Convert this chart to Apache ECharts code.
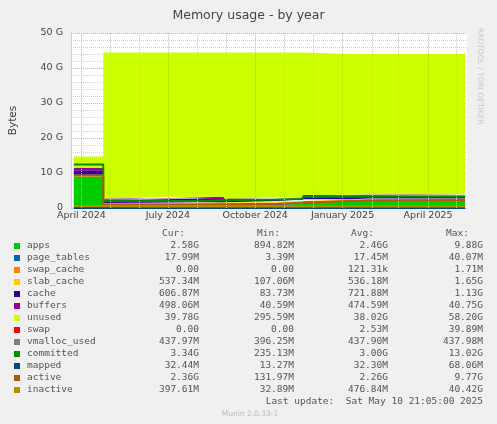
<!DOCTYPE html><html><head><meta charset="utf-8"><script src="https://cdn.jsdelivr.net/npm/echarts@6/dist/echarts.min.js"></script>
<style>body{margin:0;background:#f0f0f0}#c{width:497px;height:424px}</style></head><body><div id="c"></div><script>
const dates=['2024-03-24','2024-04-24','2024-06-09','2024-07-29','2024-08-29','2024-10-25','2024-11-20','2025-01-08','2025-01-30','2025-05-10'];
const apps=[9.0,0.4,0.5,0.6,0.8,1.2,2.0,2.0,2.1];
const page_tables=[0.02,0.02,0.02,0.02,0.02,0.02,0.02,0.02,0.02];
const swap_cache=[0,0,0,0,0,0,0,0,0];
const slab_cache=[0.5,1.0,1.0,1.0,0.8,0.8,0.5,0.5,0.6];
const cache=[1.3,1.0,1.1,1.2,0.8,0.7,0.9,1.0,0.8];
const buffers=[0.6,0.3,0.4,0.4,0.2,0.3,0.3,0.3,0.4];
const unused=[3.28,41.68,41.38,41.18,41.78,41.38,40.28,40.18,40.08];
const swap=[0,0,0,0,0,0,0,0,0];
const vmalloc_used=[0.44,0.44,0.44,0.44,0.44,0.44,0.44,0.44,0.44];
const committed=[12.4,2.0,2.0,2.2,2.4,2.6,3.2,3.3,3.3];
const mapped=[0.03,0.03,0.03,0.03,0.03,0.03,0.03,0.03,0.03];
const active=[9.3,1.0,1.0,1.1,1.2,1.5,2.0,2.2,2.3];
const inactive=[0.5,0.4,0.4,0.4,0.4,0.4,0.4,0.4,0.4];
const names=['apps','page_tables','swap_cache','slab_cache','cache','buffers','unused','swap','vmalloc_used','committed','mapped','active','inactive'];
const colors=['#00CC00','#0066B3','#FF8000','#FFCC00','#330099','#990099','#CCFF00','#FF0000','#808080','#008F00','#00487D','#B35A00','#B38F00'];
const curV=['2.58G','17.99M','0.00','537.34M','606.87M','498.06M','39.78G','0.00','437.97M','3.34G','32.44M','2.36G','397.61M'];
const minV=['894.82M','3.39M','0.00','107.06M','83.73M','40.59M','295.59M','0.00','396.25M','235.13M','13.27M','131.97M','32.89M'];
const avgV=['2.46G','17.45M','121.31k','536.18M','721.88M','474.59M','38.02G','2.53M','437.90M','3.00G','32.30M','2.26G','476.84M'];
const maxV=['9.88G','40.07M','1.71M','1.65G','1.13G','40.75G','58.20G','39.89M','437.98M','13.02G','68.06M','9.77G','40.42G'];
const monthLines=['2024-05-01','2024-06-01','2024-08-01','2024-09-01','2024-11-01','2024-12-01','2025-02-01','2025-03-01','2025-05-01'];
const quarterLines=['2024-04-01','2024-07-01','2024-10-01','2025-01-01','2025-04-01'];
const quarterLabels=['April 2024','July 2024','October 2024','January 2025','April 2025'];
const vals=[apps,page_tables,swap_cache,slab_cache,cache,buffers,unused,swap,vmalloc_used,committed,mapped,active,inactive];
function pts(a){const r=a.map((v,i)=>[dates[i],v]);r.push([dates[dates.length-1],a[a.length-1]]);return r;}
const series=vals.map((a,i)=>{const area=i<8;const empty=area&&a.every(v=>v===0);return {type:'line',name:names[i],step:'end',symbol:'none',stack:area?'s':undefined,
 data:pts(a),lineStyle:{color:colors[i],width:area?0:2,opacity:area?0:1},areaStyle:area?{color:colors[i],opacity:empty?0:1}:undefined,itemStyle:{color:colors[i]},z:area?2:3,silent:true};});
series[12].markLine={silent:true,symbol:'none',label:{show:false},data:monthLines.map(d=>({xAxis:d,lineStyle:{color:'#c8c8c8',type:'dotted',width:1}}))};
series[11].markLine={silent:true,symbol:'none',data:quarterLines.map((d,i)=>({xAxis:d,lineStyle:{color:'#f0a0a0',type:'dotted',width:1},
 label:{show:true,position:'start',distance:3,formatter:quarterLabels[i],fontFamily:'DejaVu Sans',fontSize:9.5,color:'#444'}}))};
const g=[];const fs=9.5,ff='DejaVu Sans Mono';
const hdr=[['Cur:',185],['Min:',280],['Avg:',374],['Max:',469]];
hdr.forEach(h=>g.push({type:'text',x:h[1],y:229,style:{text:h[0],font:fs+'px '+ff,fill:'#555',align:'right'}}));
names.forEach((n,i)=>{const y=241+i*12;
 g.push({type:'rect',shape:{x:14,y:y+2,width:6,height:6},style:{fill:colors[i]}});
 g.push({type:'text',x:27,y:y,style:{text:n,font:fs+'px '+ff,fill:'#555'}});
 [[curV,199],[minV,294],[avgV,388],[maxV,483]].forEach(c=>g.push({type:'text',x:c[1],y:y,style:{text:c[0][i],font:fs+'px '+ff,fill:'#555',align:'right'}}));
});
g.push({type:'text',x:483,y:397,style:{text:'Last update:  Sat May 10 21:05:00 2025',font:fs+'px '+ff,fill:'#555',align:'right'}});
g.push({type:'text',x:250,y:410,style:{text:'Munin 2.0.33-1',font:'7.5px DejaVu Sans',fill:'#bbb',align:'center'}});
g.push({type:'text',x:484,y:28,rotation:-Math.PI/2,style:{text:'RRDTOOL / TOBI OETIKER',font:'7.5px DejaVu Sans',fill:'#c8c8c8'}});
const ch=echarts.init(document.getElementById('c'));
ch.setOption({backgroundColor:'#f0f0f0',animation:false,
 title:{text:'Memory usage - by year',left:'center',top:4,textStyle:{fontFamily:'DejaVu Sans',fontSize:12.5,fontWeight:'normal',color:'#444'}},
 grid:{left:67,right:30,top:33,bottom:216,backgroundColor:'#fff',show:true,borderWidth:0},
 xAxis:{type:'time',min:'2024-03-21',max:'2025-05-12',splitLine:{show:false},axisTick:{show:false},
  axisLine:{lineStyle:{color:'#c8c8ee'}},axisLabel:{show:false}},
 yAxis:{type:'value',min:0,max:50,interval:10,name:'Bytes',nameLocation:'middle',nameGap:52,nameTextStyle:{fontFamily:'DejaVu Sans',fontSize:10.5,color:'#444'},
  axisLine:{show:true,lineStyle:{color:'#c8c8ee'}},axisTick:{show:false},
  axisLabel:{fontFamily:'DejaVu Sans',fontSize:9.5,color:'#444',formatter:v=>v===0?'0':v+' G'},
  splitLine:{lineStyle:{color:'#f0a0a0',type:'dotted'}},minorTick:{show:true,splitNumber:5,length:0},minorSplitLine:{show:true,lineStyle:{color:'#d0d0d0',type:'dotted'}}},
 series:series,graphic:g});
</script></body></html>
